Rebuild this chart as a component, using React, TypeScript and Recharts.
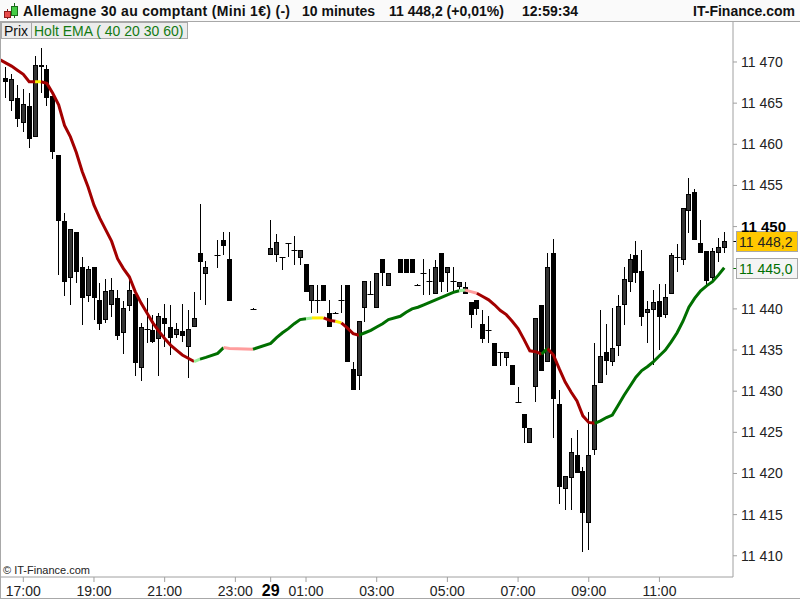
import { Bar, ComposedChart, Line, ReferenceLine, XAxis, YAxis } from 'recharts'

const FONT = '"Liberation Sans", Arial, sans-serif'

// one slot per 10-minute candle, 0 = 17:00 on the 28th (overnight slots without trades are absent)
const slot = [
  -4, -3, -2, -1, 0, 1, 2, 3, 4, 5,
  6, 7, 8, 9, 10, 11, 12, 13, 14, 15,
  16, 17, 18, 19, 20, 21, 22, 23, 24, 25,
  26, 27, 28, 29, 30, 31, 33, 34, 35, 39,
  42, 43, 44, 45, 46, 47, 48, 49, 50, 51,
  52, 53, 54, 55, 56, 57, 58, 59, 60, 61,
  62, 64, 65, 66, 67, 68, 69, 70, 71, 72,
  73, 74, 75, 76, 77, 78, 79, 80, 81, 82,
  83, 84, 85, 86, 87, 88, 89, 90, 91, 92,
  93, 94, 95, 96, 97, 98, 99, 100, 101, 102,
  103, 104, 105, 106, 107, 108, 109, 110, 111, 112,
  113, 114, 115, 116, 117, 118, 119,
]

const open = [
  null, 11468.1, 11465.3, 11465.6, 11462.6, 11464.7, 11460.9, 11469.6, 11469.1, 11465.9,
  11458.7, 11450.7, 11443.8, 11449.3, 11445.1, 11441.6, 11445.1, 11441.1, 11438.6, 11440.5,
  11441.3, 11437.1, 11440.3, 11441.8, 11432.8, 11437.6, 11437.4, 11436.3, 11438.9, 11437.8,
  11436.8, 11437.3, 11435.4, 11437.8, 11446.8, 11444.2, 11446.6, 11448.4, 11446.1, 11440.0,
  11446.6, 11446.6, 11446.3, 11448.0, 11447.2, 11446.2, 11445.5, 11441.0, 11441.1, 11442.9,
  11439.5, 11439.5, 11441.1, 11442.9, 11432.7, 11431.8, 11440.1, 11441.8, 11440.1, 11446.1,
  11442.8, 11446.1, 11446.1, 11446.1, 11442.9, 11444.4, 11443.4, 11441.8, 11446.8, 11444.3,
  11443.4, 11442.6, 11442.6, 11440.8, 11441.1, 11438.2, 11437.4, 11435.8, 11434.8, 11434.0,
  11433.2, 11428.7, 11427.2, 11423.7, 11430.5, 11440.5, 11433.5, 11446.8, 11428.5, 11418.1,
  11419.5, 11422.3, 11420.3, 11414.0, 11422.8, 11431.0, 11434.8, 11433.6, 11435.5, 11440.5,
  11443.3, 11446.6, 11444.6, 11439.5, 11439.9, 11441.0, 11439.3, 11441.8, 11446.3, 11446.0,
  11451.9, 11454.2, 11448.0, 11447.0, 11443.8, 11446.8, 11447.4,
]

const high = [
  null, 11469.4, 11468.6, 11467.2, 11466.7, 11466.2, 11470.7, 11471.7, 11469.6, 11465.9,
  11458.7, 11451.6, 11449.7, 11449.3, 11446.3, 11445.2, 11445.1, 11443.1, 11443.6, 11443.8,
  11442.3, 11440.9, 11443.6, 11441.8, 11438.3, 11441.3, 11439.3, 11439.5, 11440.6, 11440.5,
  11438.3, 11440.6, 11439.9, 11442.1, 11452.8, 11445.8, 11448.4, 11449.4, 11449.4, 11440.1,
  11450.8, 11449.1, 11446.3, 11448.0, 11448.9, 11447.1, 11445.5, 11442.9, 11442.9, 11442.9,
  11441.1, 11439.6, 11442.9, 11442.9, 11433.5, 11438.5, 11443.4, 11443.4, 11444.4, 11446.1,
  11444.4, 11446.1, 11446.1, 11446.1, 11443.0, 11446.1, 11444.9, 11445.9, 11446.8, 11445.1,
  11445.1, 11443.3, 11443.3, 11440.8, 11441.1, 11439.9, 11439.1, 11435.8, 11434.8, 11434.8,
  11433.2, 11430.5, 11427.2, 11425.5, 11438.9, 11440.5, 11446.8, 11448.5, 11430.2, 11419.7,
  11424.3, 11425.3, 11420.8, 11427.5, 11435.8, 11439.9, 11438.2, 11440.1, 11441.7, 11445.1,
  11446.7, 11448.2, 11447.2, 11440.9, 11442.3, 11443.0, 11443.0, 11446.8, 11447.9, 11452.3,
  11455.9, 11454.6, 11450.8, 11447.0, 11447.4, 11448.6, 11449.3,
]

const low = [
  null, 11465.6, 11464.1, 11462.1, 11461.5, 11459.6, 11460.9, 11466.2, 11464.6, 11458.2,
  11444.1, 11441.6, 11440.5, 11443.1, 11438.0, 11440.8, 11438.6, 11437.4, 11438.3, 11439.0,
  11436.2, 11434.5, 11439.8, 11431.8, 11431.2, 11435.8, 11435.8, 11431.8, 11435.4, 11434.4,
  11436.5, 11436.0, 11431.6, 11437.8, 11441.1, 11440.5, 11445.0, 11446.5, 11441.0, 11440.0,
  11446.6, 11445.7, 11444.7, 11446.3, 11445.3, 11445.3, 11442.1, 11439.5, 11439.5, 11441.0,
  11437.8, 11439.5, 11439.5, 11433.5, 11430.1, 11430.1, 11438.4, 11441.8, 11440.1, 11442.8,
  11442.8, 11444.4, 11444.4, 11444.4, 11442.9, 11441.7, 11441.7, 11441.8, 11442.1, 11442.1,
  11442.1, 11442.3, 11441.8, 11437.7, 11439.3, 11435.8, 11435.8, 11433.1, 11433.1, 11433.1,
  11430.8, 11428.7, 11423.7, 11423.7, 11428.7, 11432.5, 11433.5, 11424.3, 11416.3, 11415.6,
  11415.6, 11420.0, 11410.5, 11410.7, 11422.2, 11431.0, 11432.0, 11433.1, 11434.3, 11438.0,
  11442.1, 11443.1, 11437.9, 11435.8, 11433.2, 11435.0, 11438.9, 11441.8, 11444.5, 11445.3,
  11449.2, 11448.4, 11446.8, 11442.9, 11443.5, 11445.7, 11446.8,
]

const close = [
  null, 11467.6, 11467.9, 11463.1, 11464.9, 11460.6, 11469.6, 11469.4, 11465.6, 11459.1,
  11450.7, 11443.3, 11449.7, 11444.5, 11441.3, 11444.8, 11441.3, 11438.2, 11442.2, 11442.3,
  11436.7, 11440.1, 11442.3, 11433.4, 11437.8, 11437.6, 11436.0, 11439.1, 11438.2, 11436.5,
  11437.6, 11436.7, 11437.6, 11438.9, 11445.7, 11445.1, 11446.6, 11447.6, 11441.0, 11440.0,
  11447.4, 11448.1, 11446.3, 11448.0, 11447.2, 11447.1, 11442.1, 11442.9, 11441.1, 11441.0,
  11437.8, 11439.5, 11441.1, 11433.5, 11430.1, 11438.5, 11443.4, 11441.8, 11444.4, 11444.4,
  11444.4, 11444.4, 11444.4, 11444.4, 11442.9, 11444.4, 11443.4, 11445.1, 11443.3, 11445.1,
  11443.4, 11443.3, 11441.8, 11439.3, 11440.0, 11436.3, 11437.4, 11433.1, 11434.8, 11434.8,
  11430.8, 11428.7, 11425.5, 11425.5, 11438.9, 11432.5, 11445.1, 11429.1, 11418.3, 11419.7,
  11422.6, 11420.0, 11415.2, 11422.3, 11430.8, 11434.3, 11433.7, 11435.3, 11440.4, 11443.6,
  11446.1, 11444.3, 11439.0, 11440.0, 11440.8, 11439.0, 11441.5, 11446.5, 11446.3, 11452.3,
  11454.0, 11448.4, 11446.8, 11443.4, 11447.0, 11447.5, 11448.2,
]

// Holt EMA (40 20 30 60)
const ema = [
  11470.3, 11469.9, 11469.5, 11469.0, 11468.5, 11467.6, 11467.6, 11467.6, 11467.4, 11466.2,
  11464.8, 11462.3, 11460.9, 11459.0, 11456.7, 11454.8, 11452.6, 11451.0, 11449.6, 11448.2,
  11446.1, 11444.9, 11443.9, 11442.1, 11440.7, 11439.5, 11438.3, 11437.3, 11436.4, 11435.6,
  11435.0, 11434.4, 11434.0, 11433.6, 11433.9, 11434.1, 11434.6, 11435.3, 11435.2, 11435.1,
  11435.8, 11436.5, 11437.1, 11437.6, 11438.2, 11438.7, 11438.8, 11438.9, 11438.9, 11438.9,
  11438.6, 11438.5, 11438.3, 11437.7, 11437.0, 11436.8, 11437.1, 11437.4, 11437.8, 11438.2,
  11438.7, 11439.1, 11439.6, 11440.0, 11440.2, 11440.5, 11440.8, 11441.1, 11441.4, 11441.7,
  11442.0, 11442.2, 11442.3, 11442.1, 11441.9, 11441.5, 11441.1, 11440.5, 11439.8, 11439.3,
  11438.5, 11437.6, 11436.3, 11434.9, 11434.8, 11434.5, 11435.2, 11434.4, 11432.7, 11431.1,
  11429.9, 11428.8, 11427.0, 11426.2, 11426.1, 11426.4, 11426.8, 11427.1, 11428.3, 11429.5,
  11430.6, 11431.7, 11432.5, 11433.0, 11433.6, 11434.3, 11435.0, 11436.0, 11437.1, 11438.5,
  11440.2, 11441.3, 11442.2, 11442.8, 11443.3, 11444.1, 11445.0,
]

// colour runs of the EMA line: [from slot, to slot, state]
const emaRuns: [number, number, string][] = [
  [-4, 2, 'down'], [2, 3, 'flat'], [3, 29, 'down'], [29, 30, 'weakUp'], [30, 34, 'up'],
  [34, 39, 'weakDown'], [39, 48, 'up'], [48, 49, 'weakUp'], [49, 51, 'flat'], [51, 53, 'down'],
  [53, 54, 'flat'], [54, 57, 'down'], [57, 74, 'up'], [74, 75, 'weakUp'], [75, 77, 'weakDown'],
  [77, 88, 'down'], [88, 89, 'up'], [89, 97, 'down'], [97, 119, 'up'],
]

const xTicks = [0, 12, 24, 36, 42, 48, 60, 72, 84, 96, 108]
const xLabels = ['17:00', '19:00', '21:00', '23:00', '29', '01:00', '03:00', '05:00', '07:00', '09:00', '11:00']
const yTicks = [11410, 11415, 11420, 11425, 11430, 11435, 11440, 11450, 11455, 11460, 11465, 11470]

const lastPrice = 11448.2
const lastEma = 11445.0

const TREND: Record<string, string> = {
  down: '#a30000',
  up: '#006f00',
  weakUp: '#99ee99',
  weakDown: '#ff9d9d',
  flat: '#ffee00',
}

const data = slot.map((s, k) => {
  const row: Record<string, unknown> = { s, o: open[k], h: high[k], l: low[k], c: close[k] }
  if (open[k] != null) row.hl = [low[k], high[k]]
  emaRuns.forEach(([a, b], r) => {
    if (s >= a && s <= b) row['e' + r] = ema[k]
  })
  return row
})

function Candle(props: any) {
  const { x, y, width, height, payload } = props
  if (!payload || payload.o == null || !(payload.h > payload.l)) return <g />
  const top = Math.min(y, y + height)
  const span = Math.abs(height)
  const k = span / (payload.h - payload.l)
  const at = (v: number) => top + (payload.h - v) * k
  const cx = Math.round(x + width / 2) + 0.5
  const yo = at(payload.o)
  const yc = at(payload.c)
  const bt = Math.round(Math.min(yo, yc))
  const bb = Math.round(Math.max(yo, yc))
  const up = payload.c > payload.o
  return (
    <g>
      <line x1={cx} x2={cx} y1={Math.round(top)} y2={Math.max(Math.round(top + span), Math.round(top) + 1)} stroke="#000" />
      {bb - bt < 1 ? (
        <line x1={cx - 3} x2={cx + 3} y1={bt + 0.5} y2={bt + 0.5} stroke="#000" />
      ) : (
        <rect x={cx - 2} y={bt + 0.5} width={4} height={Math.max(bb - bt - 1, 0)} fill={up ? '#333' : '#000'} stroke="#000" />
      )}
    </g>
  )
}

function YTick({ x, y, payload }: any) {
  const bold = payload.value === 11450
  return (
    <text x={x} y={y} dy={5} fontSize={bold ? 15 : 14} fontWeight={bold ? 'bold' : 'normal'} fill={bold ? '#000' : '#222'} fontFamily={FONT}>
      {payload.value.toLocaleString('fr-FR').replace(/\s/g, ' ')}
    </text>
  )
}

function XTick({ x, y, payload }: any) {
  const label = xLabels[xTicks.indexOf(payload.value)]
  const day = label === '29'
  return (
    <text x={x} y={y} dy={12} textAnchor="middle" fontSize={day ? 16 : 14} fontWeight={day ? 'bold' : 'normal'} fill={day ? '#000' : '#222'} fontFamily={FONT}>
      {label}
    </text>
  )
}

function PriceTag({ viewBox, text, fill, color, tick }: any) {
  const ax = viewBox.x + viewBox.width
  const cy = Math.round(viewBox.y) + 0.5
  return (
    <g>
      <line x1={ax} x2={ax + 4} y1={cy} y2={cy} stroke={tick} />
      <rect x={ax + 3.5} y={cy - 10} width={61} height={20} fill={fill} stroke="#a8a8a8" />
      <text x={ax + 6} y={cy + 5} fontSize={14} fill={color} fontFamily={FONT}>{text}</text>
    </g>
  )
}

function Icon() {
  return (
    <svg width={20} height={20} style={{ position: 'absolute', left: 0, top: 0 }}>
      <line x1={7.5} x2={7.5} y1={9} y2={19} stroke="#8a1a1a" />
      <rect x={4.5} y={11.5} width={6} height={6} fill="#e84a4a" stroke="#8a1a1a" />
      <line x1={14.5} x2={14.5} y1={3} y2={18} stroke="#1a6a1a" />
      <rect x={11.5} y={6.5} width={6} height={9} fill="#44cc44" stroke="#1a6a1a" />
    </svg>
  )
}

const head: React.CSSProperties = {
  position: 'absolute', top: 3, fontSize: 14, fontWeight: 'bold', lineHeight: '16px', color: '#111', whiteSpace: 'nowrap',
}

const box: React.CSSProperties = {
  position: 'absolute', top: 22, height: 17, lineHeight: '17px', fontSize: 14, background: '#ececec',
  border: '1px solid #a8a8a8', boxSizing: 'border-box', paddingLeft: 2, whiteSpace: 'nowrap',
}

export default function App() {
  return (
    <div style={{ position: 'relative', width: 800, height: 600, background: '#fff', fontFamily: FONT, overflow: 'hidden' }}>
      <style>{'body{margin:0}'}</style>
      <ComposedChart width={800} height={600} data={data} margin={{ top: 22, right: 0, bottom: 0, left: 0 }}>
        <XAxis
          dataKey="s"
          type="number"
          domain={[-3.956, 120.49]}
          allowDataOverflow
          ticks={xTicks}
          interval={0}
          height={23}
          tickSize={5}
          tickMargin={2}
          stroke="#a0a0a0"
          tick={<XTick />}
        />
        <YAxis
          orientation="right"
          type="number"
          domain={[11407.42, 11474.86]}
          allowDataOverflow
          ticks={yTicks}
          interval={0}
          width={67}
          tickSize={4}
          tickMargin={4}
          stroke="#a0a0a0"
          tick={<YTick />}
        />
        <Bar dataKey="hl" barSize={5} shape={<Candle />} isAnimationActive={false} />
        {emaRuns.map(([, , state], r) => (
          <Line
            key={r}
            dataKey={'e' + r}
            stroke={TREND[state]}
            strokeWidth={3}
            dot={false}
            activeDot={false}
            connectNulls={false}
            isAnimationActive={false}
          />
        ))}
        <ReferenceLine y={lastPrice} stroke="none" label={<PriceTag text="11 448,2" fill="#ffc800" color="#222" tick="#000" />} />
        <ReferenceLine y={lastEma} stroke="none" label={<PriceTag text="11 445,0" fill="#f4f4f4" color="#006f00" tick="#006f00" />} />
      </ComposedChart>

      <div style={{ position: 'absolute', left: 0, top: 0, width: 800, height: 22, background: '#fafafa', borderBottom: '1px solid #a8a8a8', boxSizing: 'border-box' }} />
      <Icon />
      <div style={{ ...head, left: 23, letterSpacing: 0.3 }}>Allemagne 30 au comptant (Mini 1€) (-)</div>
      <div style={{ ...head, left: 302 }}>10 minutes</div>
      <div style={{ ...head, left: 389 }}>11 448,2 (+0,01%)</div>
      <div style={{ ...head, left: 522 }}>12:59:34</div>
      <div style={{ ...head, right: 5 }}>IT-Finance.com</div>

      <div style={{ ...box, left: 1, width: 31, color: '#111' }}>Prix</div>
      <div style={{ ...box, left: 31, width: 157, color: '#137a13' }}>Holt EMA ( 40 20 30 60)</div>

      <div style={{ position: 'absolute', left: 3, top: 564, fontSize: 11, lineHeight: '13px', color: '#222' }}>© IT-Finance.com</div>
      <div style={{ position: 'absolute', left: 0, top: 21, width: 1, height: 578, background: '#a8a8a8' }} />
      <div style={{ position: 'absolute', left: 0, top: 598, width: 800, height: 1, background: '#a8a8a8' }} />
    </div>
  )
}
